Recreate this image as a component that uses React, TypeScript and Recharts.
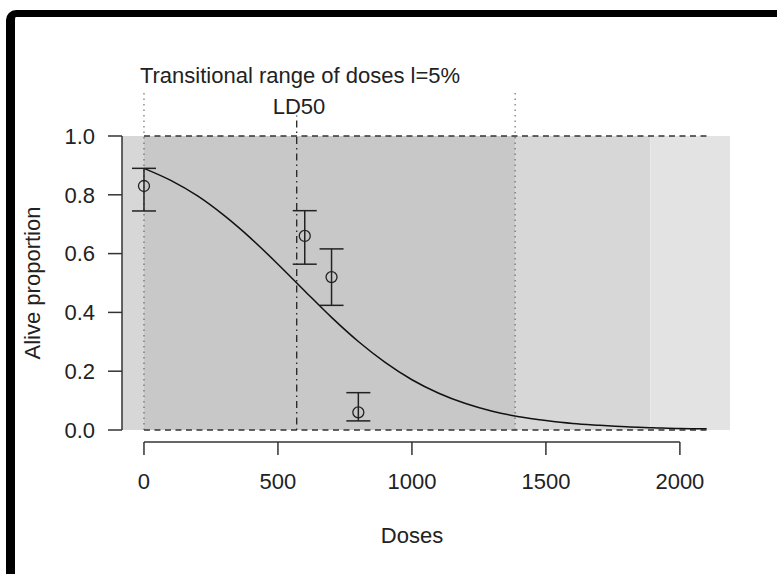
import React from 'react';
import {
  ComposedChart,
  Line,
  Scatter,
  ErrorBar,
  XAxis,
  YAxis,
  ReferenceLine,
  ReferenceArea,
  Label,
} from 'recharts';

// fitted survival curve
const curveDoses = [0, 100, 200, 300, 400, 500, 600, 700, 800, 900, 1000, 1100, 1200, 1300, 1400, 1500, 1600, 1700, 1800, 1900, 2000, 2100];
const curveAlive = [0.89, 0.849, 0.796, 0.729, 0.651, 0.564, 0.473, 0.383, 0.301, 0.23, 0.171, 0.125, 0.09, 0.064, 0.045, 0.032, 0.022, 0.016, 0.011, 0.008, 0.005, 0.004];

// observed proportions with their intervals
const obsDoses = [0, 600, 700, 800];
const obsAlive = [0.83, 0.66, 0.52, 0.06];
const obsLower = [0.745, 0.564, 0.424, 0.031];
const obsUpper = [0.89, 0.746, 0.616, 0.127];

const doseTicks = [0, 500, 1000, 1500, 2000];
const aliveTicks = [0, 0.2, 0.4, 0.6, 0.8, 1];

const ld50 = 570;
const rangeLow = 0;
const rangeHigh = 1385;
const bandEdges = [-82, 0, 1385, 1890, 2187];

const X_DOMAIN: [number, number] = [-82, 2187];
const Y_DOMAIN: [number, number] = [-0.0408, 1.0408];
const bandFills = ['#d7d7d7', '#c8c8c8', '#d7d7d7', '#e3e3e3'];
const FONT = '"Liberation Sans", Arial, Helvetica, sans-serif';
const FS = 22;
const INK = '#222';

const curve = curveDoses.map((dose, i) => ({ dose, alive: curveAlive[i] }));
const observed = obsDoses.map((dose, i) => ({
  dose,
  prop: obsAlive[i],
  err: [obsAlive[i] - obsLower[i], obsUpper[i] - obsAlive[i]],
}));

const Ring = (props: any) => (
  <circle cx={props.cx} cy={props.cy} r={5.5} fill="none" stroke={INK} strokeWidth={1.3} />
);

const textStyle: React.CSSProperties = {
  position: 'absolute',
  transform: 'translate(-50%, -50%)',
  fontFamily: FONT,
  fontSize: FS,
  color: INK,
  whiteSpace: 'nowrap',
};

const App: React.FC = () => (
  <div style={{ position: 'absolute', left: 0, top: 0, width: 777, height: 574, overflow: 'hidden', background: '#fff' }}>
    <div
      style={{
        position: 'absolute',
        left: 6,
        top: 10,
        width: 900,
        height: 700,
        borderTop: '7px solid #000',
        borderLeft: '9px solid #000',
        borderTopLeftRadius: 10,
      }}
    />
    <div style={{ ...textStyle, left: 300, top: 76 }}>Transitional range of doses l=5%</div>
    <div style={{ ...textStyle, left: 299, top: 107 }}>LD50</div>
    <div style={{ position: 'absolute', left: 0, top: 0 }}>
      <ComposedChart width={777} height={574} margin={{ top: 124, right: 47, bottom: 0, left: 0 }}>
        <XAxis
          type="number"
          dataKey="dose"
          domain={X_DOMAIN}
          ticks={doseTicks}
          allowDataOverflow
          axisLine={false}
          tickSize={13}
          tickMargin={18}
          height={132}
          tickLine={{ stroke: '#333', strokeWidth: 1.5 }}
          tick={{ fill: INK, fontSize: FS, fontFamily: FONT }}
        >
          <Label
            content={() => (
              <text x={412} y={535} textAnchor="middle" dominantBaseline="central" fill={INK} fontSize={FS} fontFamily={FONT}>
                Doses
              </text>
            )}
          />
        </XAxis>
        <YAxis
          type="number"
          domain={Y_DOMAIN}
          ticks={aliveTicks}
          allowDataOverflow
          axisLine={false}
          width={122}
          tickSize={14}
          tickMargin={13}
          tickFormatter={(v: number) => v.toFixed(1)}
          tickLine={{ stroke: '#333', strokeWidth: 1.5 }}
          tick={{ fill: INK, fontSize: FS, fontFamily: FONT }}
        >
          <Label
            content={() => (
              <text
                x={32}
                y={283}
                transform="rotate(-90 32 283)"
                textAnchor="middle"
                dominantBaseline="central"
                fill={INK}
                fontSize={FS}
                fontFamily={FONT}
              >
                Alive proportion
              </text>
            )}
          />
        </YAxis>

        {bandFills.map((fill, i) => (
          <ReferenceArea
            key={i}
            x1={bandEdges[i]}
            x2={bandEdges[i + 1]}
            y1={0}
            y2={1}
            fill={fill}
            fillOpacity={1}
            stroke="none"
          />
        ))}

        {/* axis lines drawn only over the tick range */}
        <ReferenceLine
          segment={[{ x: X_DOMAIN[0], y: 0 }, { x: X_DOMAIN[0], y: 1 }]}
          stroke="#333"
          strokeWidth={1.5}
          ifOverflow="visible"
        />
        <ReferenceLine
          segment={[{ x: doseTicks[0], y: Y_DOMAIN[0] }, { x: doseTicks[doseTicks.length - 1], y: Y_DOMAIN[0] }]}
          stroke="#333"
          strokeWidth={1.5}
          ifOverflow="visible"
        />

        <ReferenceLine
          segment={[{ x: 0, y: 1 }, { x: 2100, y: 1 }]}
          stroke="#333"
          strokeWidth={1.5}
          strokeDasharray="6 4.5"
          ifOverflow="visible"
        />
        <ReferenceLine
          segment={[{ x: 0, y: 0 }, { x: 2100, y: 0 }]}
          stroke="#333"
          strokeWidth={1.5}
          strokeDasharray="6 4.5"
          ifOverflow="visible"
        />
        <ReferenceLine
          segment={[{ x: rangeLow, y: 0 }, { x: rangeLow, y: 1.15 }]}
          stroke="#555"
          strokeWidth={1}
          strokeDasharray="1.5 4"
          ifOverflow="visible"
        />
        <ReferenceLine
          segment={[{ x: rangeHigh, y: 0 }, { x: rangeHigh, y: 1.15 }]}
          stroke="#555"
          strokeWidth={1}
          strokeDasharray="1.5 4"
          ifOverflow="visible"
        />
        <ReferenceLine
          segment={[{ x: ld50, y: 0 }, { x: ld50, y: 1.07 }]}
          stroke="#222"
          strokeWidth={1.3}
          strokeDasharray="1.5 4 7 4"
          ifOverflow="visible"
        />

        <Line
          data={curve}
          dataKey="alive"
          type="monotone"
          stroke="#111"
          strokeWidth={1.5}
          dot={false}
          activeDot={false}
          isAnimationActive={false}
        />
        <Scatter data={observed} dataKey="prop" shape={Ring} isAnimationActive={false}>
          <ErrorBar dataKey="err" direction="y" width={12} stroke={INK} strokeWidth={1.5} isAnimationActive={false} />
        </Scatter>
      </ComposedChart>
    </div>
  </div>
);

export default App;
